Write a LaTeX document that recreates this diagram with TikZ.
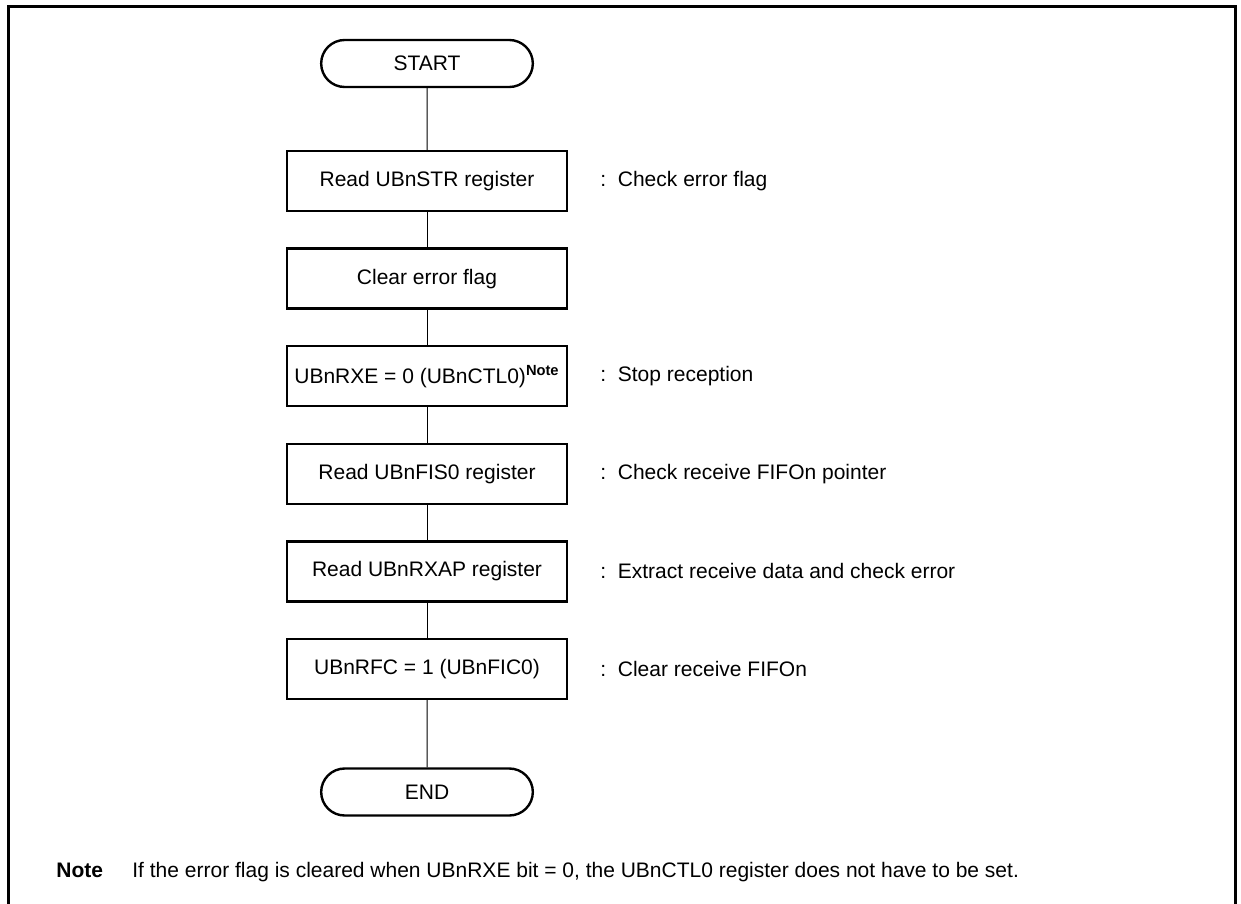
\documentclass[tikz,border=0pt]{standalone}
\usepackage{fontspec}
\setmainfont{Liberation Sans}
\usepackage{tikz}
\usetikzlibrary{shapes.misc, positioning}

\begin{document}
\begin{tikzpicture}[x=0.5pt, y=-0.5pt, node distance=48.8pt, on grid,
        font=\fontsize{10.5}{12.6}\selectfont,
        proc/.style={draw, line width=1.2pt, minimum width=140pt, minimum height=30pt, inner xsep=2pt},
        term/.style={draw, line width=1.2pt, rounded rectangle, minimum width=112.5pt, minimum height=23.5pt},
        cmt/.style={anchor=west, inner sep=0pt},
        flow/.style={line width=0.5pt}]

        \useasboundingbox (0,0) rectangle (1241,904);
        \draw[line width=1.5pt] (8,904) -- (8,7) -- (1235,7) -- (1235,904);

        \node[term] (start) at (427,63.5) {START};
        \node[proc, below=58.75pt of start] (rdstr) {Read UBnSTR register};
        \node[proc, below=of rdstr] (clrerr) {Clear error flag};
        \node[proc, below=of clrerr] (rxe) {UBnRXE = 0 (UBnCTL0)\textsuperscript{\textbf{Note}}};
        \node[proc, below=of rxe] (rdfis) {Read UBnFIS0 register};
        \node[proc, below=of rdfis] (rdrxap) {Read UBnRXAP register};
        \node[proc, below=of rdrxap] (rfc) {UBnRFC = 1 (UBnFIC0)};
        \node[term, below=61.5pt of rfc] (stop) {END};

        \node[right=86.5pt of rdstr, cmt] (c1) {:~~Check error flag};
        \node[right=86.5pt of rxe, cmt] (c3) {:~~Stop reception};
        \node[right=86.5pt of rdfis, cmt] (c4) {:~~Check receive FIFOn pointer};
        \node[right=86.5pt of rdrxap, cmt] (c5) {:~~Extract receive data and check error};
        \node[right=86.5pt of rfc, cmt] (c6) {:~~Clear receive FIFOn};

        \node[anchor=base west, inner sep=0pt] (notehd) at (56,877) {\textbf{Note}};
        \node[anchor=base west, inner sep=0pt] (notetxt) at (132,877)
            {If the error flag is cleared when UBnRXE bit = 0, the UBnCTL0 register does not have to be set.};

        \path[flow]
        (start) edge (rdstr)
        (rdstr) edge (clrerr)
        (clrerr) edge (rxe)
        (rxe) edge (rdfis)
        (rdfis) edge (rdrxap)
        (rdrxap) edge (rfc)
        (rfc) edge (stop);

\end{tikzpicture}
\end{document}
